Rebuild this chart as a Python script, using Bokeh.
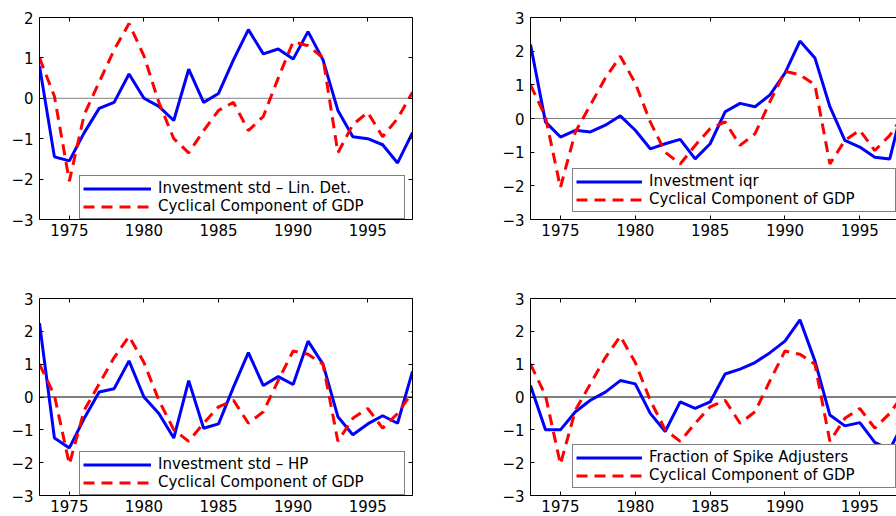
from bokeh.plotting import figure
from bokeh.models import (LinearAxis, FixedTicker, Span, Legend, LegendItem, Range1d,
                          CustomLabelingPolicy)
from bokeh.layouts import column, row
from bokeh.embed import file_html
from bokeh.resources import INLINE

years = list(range(1973, 1999))

gdp_cycle = [1.0, 0.05, -2.05, -0.4, 0.4, 1.2, 1.85, 1.05, -0.1, -1.0, -1.35, -0.8, -0.3,
             -0.1, -0.8, -0.45, 0.5, 1.4, 1.3, 1.0, -1.35, -0.65, -0.35, -0.95, -0.5, 0.15]

inv_std_lin = [0.8, -1.45, -1.55, -0.85, -0.25, -0.1, 0.6, 0.0, -0.2, -0.55, 0.72, -0.1, 0.12,
               0.95, 1.7, 1.1, 1.22, 0.97, 1.65, 0.95, -0.3, -0.95, -1.0, -1.15, -1.6, -0.85]

inv_iqr = [2.2, -0.1, -0.55, -0.35, -0.4, -0.2, 0.08, -0.35, -0.9, -0.75, -0.62, -1.2, -0.75,
           0.2, 0.45, 0.35, 0.7, 1.35, 2.3, 1.8, 0.35, -0.65, -0.85, -1.15, -1.2, 0.6]

inv_std_hp = [2.25, -1.25, -1.55, -0.65, 0.15, 0.25, 1.1, 0.0, -0.5, -1.25, 0.5, -0.95, -0.82,
              0.3, 1.35, 0.35, 0.62, 0.38, 1.7, 1.0, -0.6, -1.15, -0.82, -0.57, -0.8, 0.78]

spike_frac = [0.35, -1.0, -1.0, -0.45, -0.1, 0.15, 0.5, 0.4, -0.5, -1.05, -0.15, -0.35, -0.15,
              0.7, 0.85, 1.05, 1.35, 1.7, 2.35, 1.1, -0.55, -0.88, -0.78, -1.38, -1.6, -0.7]

labels = ["Investment std \u2013 Lin. Det.", "Investment iqr",
          "Investment std \u2013 HP", "Fraction of Spike Adjusters"]
gdp_label = "Cyclical Component of GDP"
x_ticks = [1975, 1980, 1985, 1990, 1995]

FONT = "DejaVu Sans"


def style_axis(ax, show_labels, is_y):
    ax.axis_line_color = "black"
    ax.axis_line_width = 1
    ax.major_tick_in = 4
    ax.major_tick_out = 0
    ax.minor_tick_line_color = None
    ax.major_tick_line_color = "black"
    ax.major_label_text_font = FONT
    ax.major_label_text_color = "black"
    ax.major_label_text_font_size = "15px"
    if show_labels:
        ax.major_label_standoff = 6 if is_y else 4
    else:
        ax.major_label_standoff = 0
        ax.major_label_policy = CustomLabelingPolicy(code="return new Set()")


def panel(series, label, y_lo, y_hi, left_col, top_row, zero_color):
    if left_col:
        w, bl, br, x_end = 460, 39, 48, 1998
    else:
        w, bl, br, x_end = 436, 70, 0, 1997.45
    if top_row:
        h, bt, bb = 265, 17, 46
    else:
        h, bt, bb = 251, 33, 21
    p = figure(width=w, height=h, output_backend="svg", toolbar_location=None,
               x_range=Range1d(1973, x_end), y_range=Range1d(y_lo, y_hi),
               min_border_left=bl, min_border_right=br, min_border_top=bt, min_border_bottom=bb)
    p.outline_line_color = None
    p.xgrid.visible = False
    p.ygrid.visible = False
    p.background_fill_color = "white"
    p.border_fill_color = "white"

    yt = list(range(int(y_lo), int(y_hi) + 1))
    overrides = {v: ("\u2212" + str(abs(v)) if v < 0 else str(v)) for v in yt}

    p.xaxis.ticker = FixedTicker(ticks=x_ticks, minor_ticks=[])
    p.yaxis.ticker = FixedTicker(ticks=yt, minor_ticks=[])
    p.yaxis.major_label_overrides = overrides
    style_axis(p.xaxis[0], True, False)
    style_axis(p.yaxis[0], True, True)

    top = LinearAxis(ticker=FixedTicker(ticks=x_ticks, minor_ticks=[]))
    style_axis(top, False, False)
    p.add_layout(top, "above")
    if left_col:
        right = LinearAxis(ticker=FixedTicker(ticks=yt, minor_ticks=[]))
        style_axis(right, False, True)
        p.add_layout(right, "right")

    p.add_layout(Span(location=0, dimension="width", line_color=zero_color,
                      line_width=1, level="underlay"))

    r1 = p.line(years, series, line_color="#0000FF", line_width=3)
    r2 = p.line(years, gdp_cycle, line_color="#FF0000", line_width=3, line_dash="11 7")

    if left_col:
        loc, gw = (40, 0), 68
    else:
        loc, gw = (42, 7), 66
    leg = Legend(items=[LegendItem(label=label, renderers=[r1]),
                        LegendItem(label=gdp_label, renderers=[r2])],
                 location=loc, padding=3, margin=0, spacing=0,
                 glyph_width=gw, glyph_height=17, label_height=17, label_width=243,
                 label_standoff=7, border_line_color="black", border_line_width=1,
                 background_fill_color="white", background_fill_alpha=1.0,
                 label_text_font=FONT, label_text_font_size="15px", label_text_color="black")
    p.add_layout(leg)
    return p


p1 = panel(inv_std_lin, labels[0], -3, 2, True, True, "#808080")
p2 = panel(inv_iqr, labels[1], -3, 3, False, True, "#808080")
p3 = panel(inv_std_hp, labels[2], -3, 3, True, False, "black")
p4 = panel(spike_frac, labels[3], -3, 3, False, False, "black")

layout = column(row(p1, p2, spacing=0), row(p3, p4, spacing=0), spacing=0)

open("out.html", "w").write(file_html(layout, INLINE))
